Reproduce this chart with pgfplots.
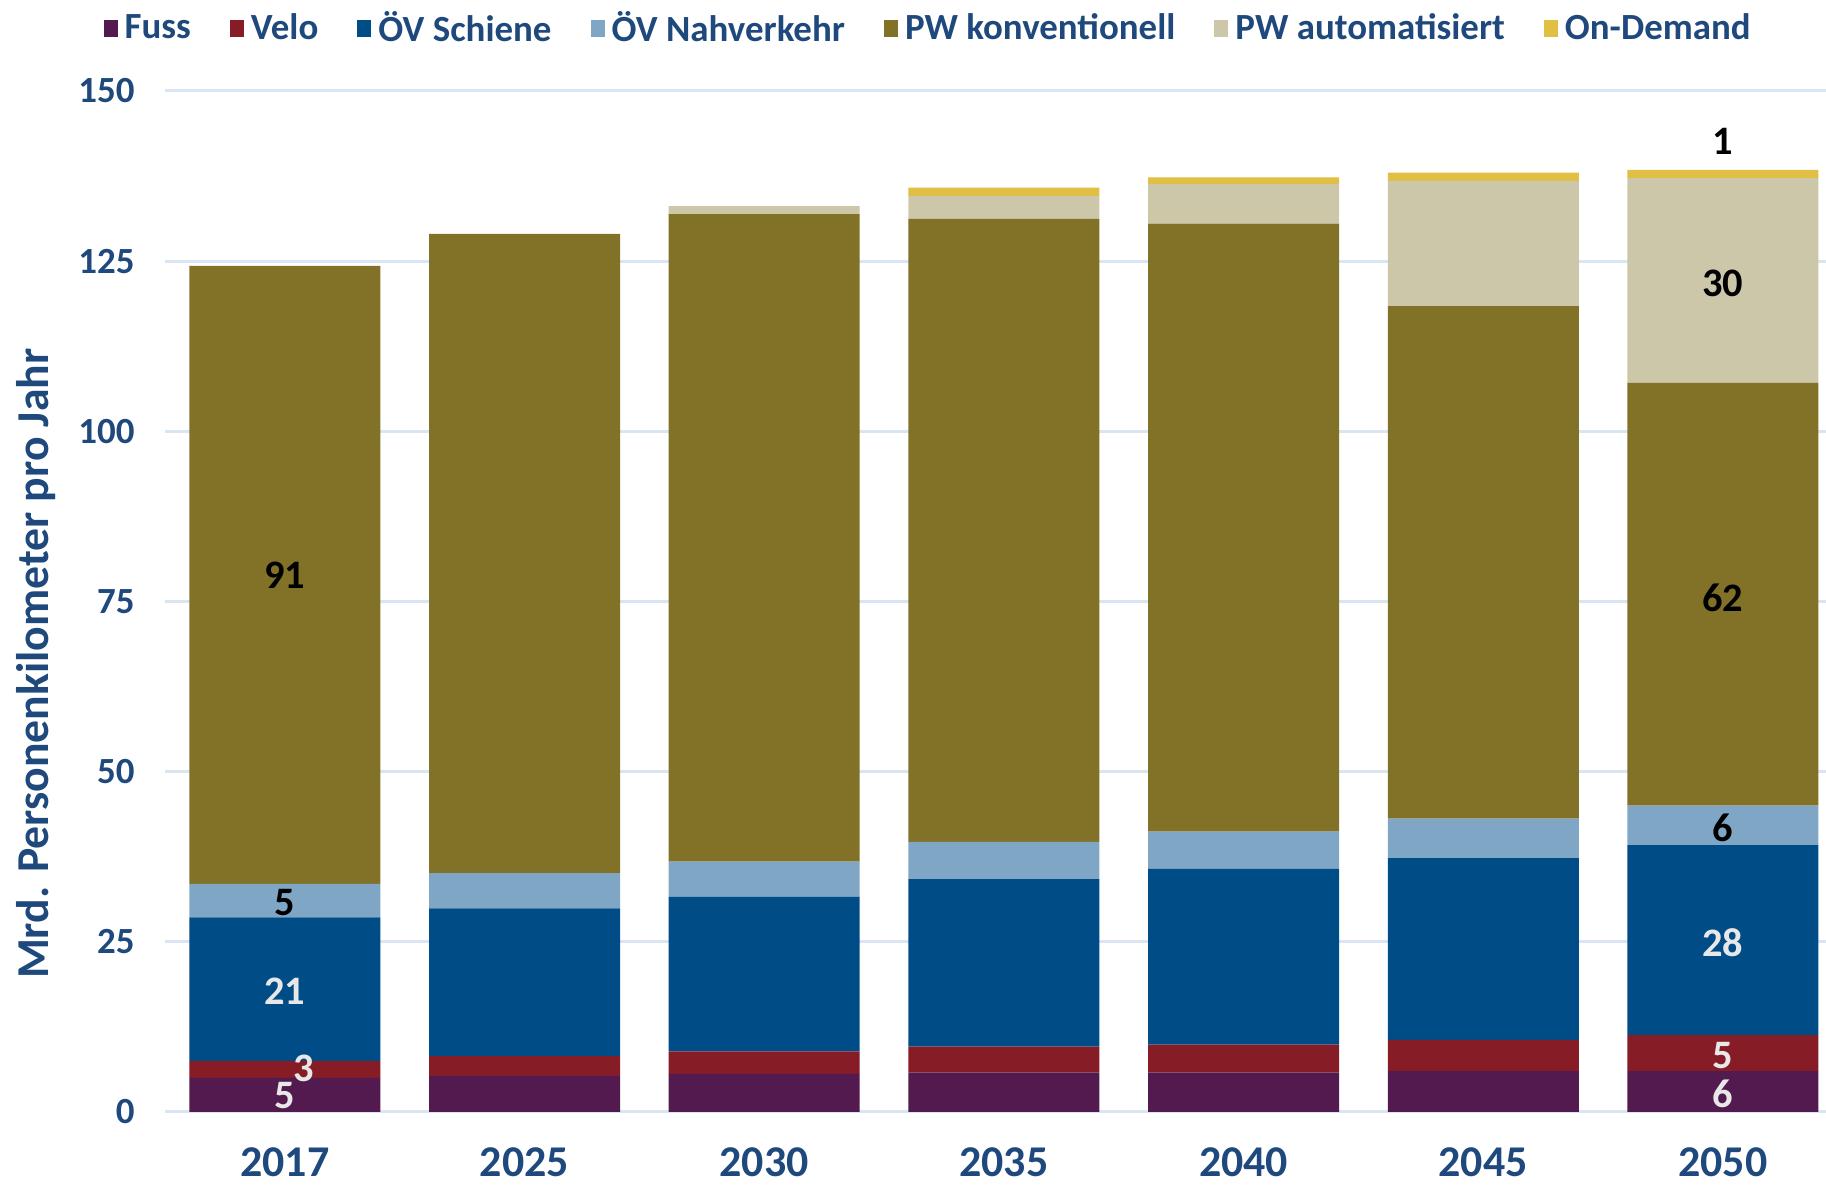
\documentclass[border=0pt]{standalone}
\usepackage{fontspec}
\setmainfont{Carlito}
\usepackage{pgfplots}
\pgfplotsset{compat=1.18}

\definecolor{cFuss}{HTML}{521A4E}
\definecolor{cVelo}{HTML}{861C26}
\definecolor{cSchiene}{HTML}{004C87}
\definecolor{cNah}{HTML}{80A6C5}
\definecolor{cPWk}{HTML}{827228}
\definecolor{cPWa}{HTML}{CCC7A9}
\definecolor{cOnD}{HTML}{E0BF42}
\definecolor{txtblue}{HTML}{1F497D}
\definecolor{gridblue}{HTML}{DAE5F3}
\definecolor{lbllight}{HTML}{E8E8E8}

\tikzset{lbl/.style={font=\fontsize{11.5}{13}\selectfont\bfseries}}

\begin{document}
\begin{tikzpicture}
\begin{axis}[
    at={(0,0)}, anchor=south west,
    scale only axis,
    width=166.1mm, height=102.1mm,
    ybar stacked,
    bar width=19.1mm,
    xmin=-0.5, xmax=6.43,
    ymin=0, ymax=150,
    xtick={0,1,2,3,4,5,6},
    xticklabels={2017,2025,2030,2035,2040,2045,2050},
    ytick={0,25,50,75,100,125,150},
    ymajorgrids=true,
    grid style={gridblue, line width=0.3mm},
    axis line style={draw=none},
    major tick length=0pt,
    /pgf/number format/assume math mode=true,
    x tick label style={font=\fontsize{12.5}{14}\selectfont\bfseries, text=txtblue, yshift=-2.3mm},
    y tick label style={font=\fontsize{10.5}{12}\selectfont\bfseries, text=txtblue, xshift=-1.8mm},
    ylabel={Mrd. Personenkilometer pro Jahr},
    ylabel style={font=\fontsize{13}{15}\selectfont\bfseries, text=txtblue,
        at={(axis description cs:-0.0777,0.439)}, anchor=center},
    legend columns=-1,
    legend style={draw=none, fill=none, inner sep=0pt,
        at={(axis description cs:0.461,1.061)}, anchor=center,
        font=\fontsize{10.5}{12}\selectfont\bfseries, text=txtblue,
        /tikz/every even column/.append style={column sep=3.2mm}},
    legend image code/.code={\fill[#1] (0mm,-0.85mm) rectangle (1.4mm,0.85mm);},
    after end axis/.code={
        \node[lbl, text=lbllight] at (axis cs:0,2.4) {5};
        \node[lbl, text=lbllight] at (axis cs:0.08,6.4) {3};
        \node[lbl, text=lbllight] at (axis cs:0,17.8) {21};
        \node[lbl, text=black] at (axis cs:0,30.8) {5};
        \node[lbl, text=black] at (axis cs:0,78.8) {91};
        \node[lbl, text=lbllight] at (axis cs:6,2.6) {6};
        \node[lbl, text=lbllight] at (axis cs:6,8.3) {5};
        \node[lbl, text=lbllight] at (axis cs:6,24.8) {28};
        \node[lbl, text=black] at (axis cs:6,41.8) {6};
        \node[lbl, text=black] at (axis cs:6,75.6) {62};
        \node[lbl, text=black] at (axis cs:6,121.8) {30};
        \node[lbl, text=black] at (axis cs:6,142.6) {1};
    },
]
% Fuss
\addplot[fill=cFuss, draw=none] coordinates {(0,5.0) (1,5.3) (2,5.6) (3,5.8) (4,5.8) (5,6.0) (6,6.0)};
% Velo
\addplot[fill=cVelo, draw=none] coordinates {(0,2.5) (1,2.9) (2,3.3) (3,3.8) (4,4.1) (5,4.6) (6,5.3)};
% OeV Schiene
\addplot[fill=cSchiene, draw=none] coordinates {(0,21.1) (1,21.7) (2,22.7) (3,24.6) (4,25.8) (5,26.7) (6,27.9)};
% OeV Nahverkehr
\addplot[fill=cNah, draw=none] coordinates {(0,4.9) (1,5.2) (2,5.2) (3,5.5) (4,5.5) (5,5.8) (6,5.8)};
% PW konventionell
\addplot[fill=cPWk, draw=none] coordinates {(0,90.8) (1,93.9) (2,95.1) (3,91.5) (4,89.3) (5,75.3) (6,62.1)};
% PW automatisiert
\addplot[fill=cPWa, draw=none] coordinates {(0,0) (1,0) (2,1.2) (3,3.4) (4,5.8) (5,18.4) (6,30.1)};
% On-Demand
\addplot[fill=cOnD, draw=none] coordinates {(0,0) (1,0) (2,0) (3,1.2) (4,1.0) (5,1.2) (6,1.2)};
\legend{Fuss, Velo, ÖV Schiene, ÖV Nahverkehr, PW konventionell, PW automatisiert, On-Demand}
\end{axis}
\pgfresetboundingbox
\useasboundingbox (-16.5mm,-7.5mm) rectangle (166.1mm,111.2mm);
\end{tikzpicture}
\end{document}
